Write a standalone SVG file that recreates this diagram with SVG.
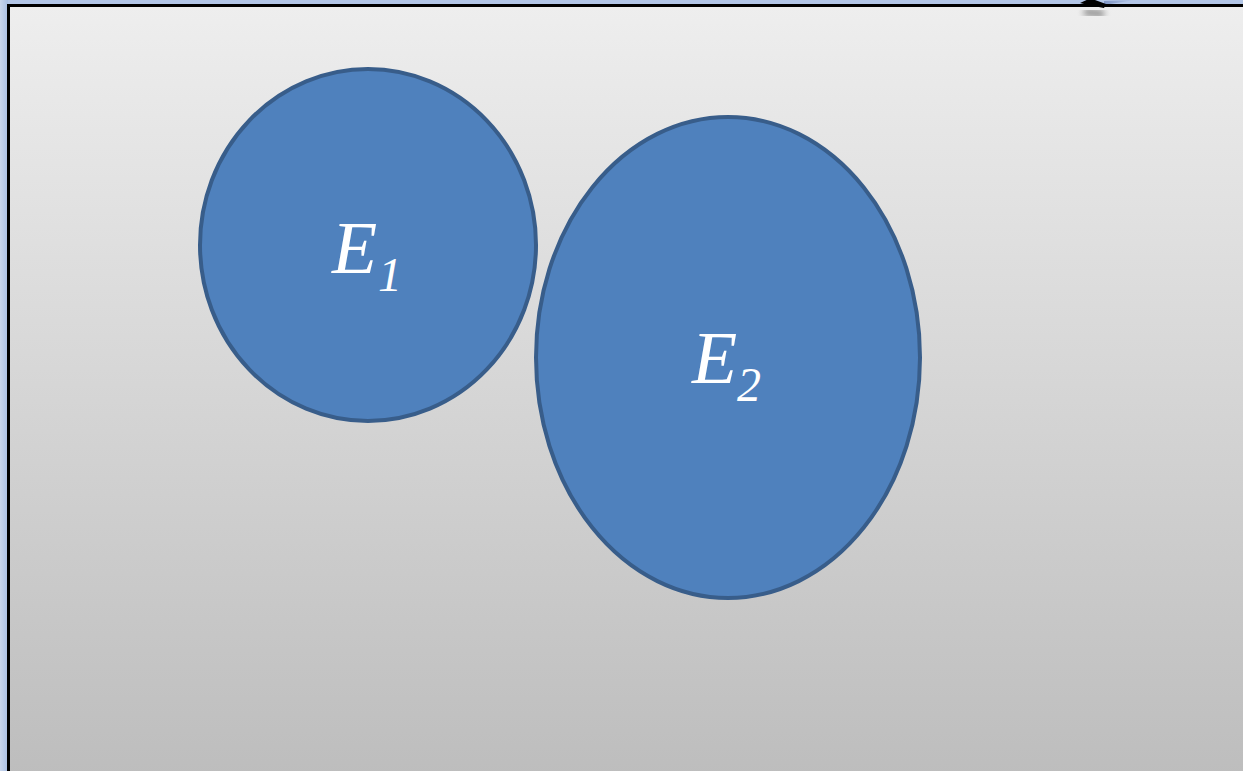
<svg xmlns="http://www.w3.org/2000/svg" width="1243" height="771" viewBox="0 0 1243 771">
<defs>
<linearGradient id="bg" x1="0" y1="0" x2="0" y2="1">
<stop offset="0" stop-color="#eeeeee"/>
<stop offset="1" stop-color="#bdbdbd"/>
</linearGradient>
<linearGradient id="edge" x1="0" y1="0" x2="1" y2="0">
<stop offset="0" stop-color="#c9d6ec"/>
<stop offset="1" stop-color="#a9bfe4"/>
</linearGradient>
<linearGradient id="beam" x1="0" y1="0" x2="1" y2="0">
<stop offset="0" stop-color="#7f95c4"/>
<stop offset="1" stop-color="#b3c6e7"/>
</linearGradient>
<filter id="sh" x="-50%" y="-100%" width="200%" height="300%">
<feGaussianBlur stdDeviation="3"/>
</filter>
<style>
.node{fill:#4f81bd;stroke:#385d8a;stroke-width:4}
.lbl{font-family:"Liberation Serif","Times New Roman",serif;font-style:italic;fill:#ffffff}
</style>
</defs>
<rect x="0" y="0" width="1243" height="771" fill="#b3c6e7"/>
<rect x="0" y="0" width="8" height="771" fill="url(#edge)"/>
<polygon points="1104,1 1135,0 1104,5" fill="url(#beam)"/>
<rect x="8.5" y="5.5" width="1240" height="772" fill="url(#bg)" stroke="#000000" stroke-width="3"/>
<g id="connectors">
<path d="M1084 12 L1104 14" stroke="#000" stroke-width="7" opacity="0.4" filter="url(#sh)" fill="none"/>
<polygon points="1080,3 1091,-2 1095,0 1106,4 1104,8 1088,5" fill="#000"/>
</g>
<g id="E1">
<ellipse class="node" cx="368" cy="245" rx="168" ry="176"/>
<text class="lbl" x="332" y="273" font-size="74">E</text>
<text class="lbl" x="378" y="291" font-size="48">1</text>
</g>
<g id="E2">
<ellipse class="node" cx="728" cy="357.5" rx="192" ry="240.5"/>
<text class="lbl" x="692" y="383" font-size="74">E</text>
<text class="lbl" x="737" y="401" font-size="48">2</text>
</g>
</svg>
